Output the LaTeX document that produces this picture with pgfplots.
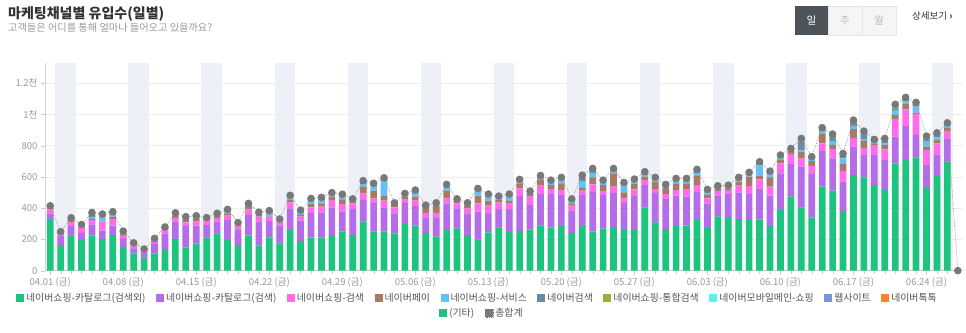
\documentclass[border=0pt]{standalone}
\usepackage{fontspec}
\setmainfont{Noto Sans CJK KR}
\usepackage{pgfplots}
\usepackage{pgfplotstable}
\pgfplotsset{compat=1.18}

\definecolor{cg}{HTML}{1CC47E}
\definecolor{cp}{HTML}{B46CE8}
\definecolor{ck}{HTML}{FF6BE8}
\definecolor{cb}{HTML}{A87A65}
\definecolor{cl}{HTML}{62C1F6}
\definecolor{cs}{HTML}{6A8BA3}
\definecolor{co}{HTML}{9DAE34}
\definecolor{cc}{HTML}{5DF0EC}
\definecolor{cw}{HTML}{7D93E0}
\definecolor{ct}{HTML}{FF7F2A}
\definecolor{ctot}{HTML}{787878}
\definecolor{cline}{HTML}{999999}
\definecolor{cband}{HTML}{EDF1F7}
\definecolor{cgrid}{HTML}{EEEEEE}
\definecolor{ctick}{HTML}{999999}
\definecolor{ctitle}{HTML}{333333}
\definecolor{csub}{HTML}{9A9A9A}
\definecolor{cleg}{HTML}{555555}
\definecolor{cdark}{HTML}{4C5459}
\definecolor{cbtn}{HTML}{F5F5F5}
\definecolor{cbtnb}{HTML}{E6E6E6}
\definecolor{cbtnt}{HTML}{BBBBBB}

\pgfplotstableread{
day g p k b l s o c w t tot
0 324 43 26 8 6 5 4 0 0 0 416
1 164 60 20 2 2 2 0 0 0 0 250
2 224 62 26 12 6 6 3 0 0 0 339
3 196 47 39 6 4 4 0 0 0 0 296
4 226 71 27 8 12 14 7 0 8 0 373
5 203 53 58 0 32 15 2 0 0 0 363
6 228 60 43 15 12 8 12 0 0 0 378
7 152 51 25 8 5 11 2 0 0 0 254
8 111 32 21 5 4 6 0 0 0 0 179
9 83 34 15 3 2 2 0 0 0 0 139
10 111 60 21 7 4 4 0 0 0 0 207
11 134 105 28 4 3 6 0 0 0 0 280
12 203 111 25 12 8 12 0 0 0 0 371
13 147 139 23 15 11 11 0 0 0 0 346
14 175 113 26 17 10 11 0 0 0 0 352
15 211 81 28 15 3 2 0 0 0 0 340
16 239 75 25 17 6 6 0 0 0 0 368
17 196 128 28 15 11 15 0 0 0 0 393
18 164 96 26 5 10 7 0 0 0 0 308
19 224 132 37 21 8 9 0 0 0 0 431
20 160 154 32 10 8 11 0 0 0 0 375
21 213 105 28 6 15 18 0 0 0 0 385
22 175 113 26 7 5 5 0 0 0 0 331
23 260 139 38 15 22 9 0 0 0 0 483
24 190 130 26 12 15 15 0 0 0 0 388
25 211 160 34 22 25 11 0 0 0 0 463
26 211 162 37 21 21 18 0 0 0 0 470
27 228 177 47 22 17 9 0 0 0 0 500
28 250 130 47 30 15 18 0 0 0 0 490
29 228 167 36 11 10 8 0 0 0 0 460
30 314 138 43 43 17 22 0 0 0 0 577
31 250 185 28 49 30 18 0 0 0 0 560
32 250 155 43 30 92 25 0 0 0 0 595
33 239 128 38 15 8 7 0 0 0 0 435
34 299 136 24 15 12 9 0 0 0 0 495
35 288 126 34 26 25 18 0 0 0 0 517
36 243 98 30 39 5 5 0 0 0 0 420
37 218 123 30 43 10 11 0 0 0 0 435
38 260 171 32 49 26 15 0 0 0 0 553
39 271 128 32 17 6 6 0 0 0 0 460
40 228 139 32 17 10 9 0 0 0 0 435
41 201 177 53 49 26 21 0 0 0 0 527
42 245 128 43 32 26 17 0 0 0 0 491
43 277 118 42 15 14 12 0 0 0 0 478
44 254 141 34 19 26 17 0 0 0 0 491
45 254 224 49 32 12 14 0 0 0 0 585
46 265 155 54 17 10 9 0 0 0 0 510
47 288 203 57 37 13 12 0 0 0 0 610
48 277 214 32 27 15 15 0 0 0 0 580
49 286 198 32 43 21 18 0 0 0 0 598
50 243 141 36 11 13 16 0 0 0 0 460
51 286 198 28 19 39 22 10 10 0 0 612
52 250 255 48 45 29 28 0 0 0 0 655
53 271 213 26 38 15 17 0 0 0 0 580
54 275 224 39 85 17 15 0 0 0 0 655
55 260 175 32 35 42 21 0 0 0 0 565
56 267 211 43 34 15 17 0 0 0 0 587
57 405 143 32 22 17 15 0 0 0 0 634
58 309 190 24 47 15 13 0 0 0 0 598
59 267 192 32 40 11 11 0 0 0 0 553
60 286 194 36 43 15 17 0 0 0 0 591
61 288 186 49 36 15 17 0 0 0 0 591
62 324 181 43 58 21 22 0 0 0 0 649
63 275 156 32 26 17 15 0 0 0 0 521
64 346 134 26 21 8 9 0 0 0 0 544
65 339 152 25 11 10 11 0 0 0 0 548
66 331 170 47 22 15 13 0 0 0 0 598
67 324 167 51 60 17 11 0 0 0 0 630
68 329 198 58 21 68 24 0 0 0 0 698
69 286 194 58 60 21 19 0 0 0 0 638
70 388 235 64 26 13 15 0 0 0 0 741
71 474 209 64 21 11 4 0 0 0 0 783
72 405 261 53 43 11 53 21 0 0 0 847
73 341 278 53 30 11 17 0 0 0 0 730
74 538 230 47 64 17 20 0 0 0 0 916
75 512 207 60 26 25 25 8 0 0 12 875
76 382 188 68 45 36 32 0 0 0 0 751
77 612 182 57 56 15 32 11 0 0 0 965
78 598 147 42 45 10 37 15 0 0 0 894
79 548 192 64 11 10 16 0 0 0 0 841
80 516 192 69 28 14 11 17 0 0 0 847
81 687 171 113 26 32 10 11 5 10 0 1065
82 708 218 107 34 15 28 0 0 0 0 1110
83 726 143 134 10 37 17 11 0 0 0 1078
84 529 147 97 21 36 8 24 0 0 0 862
85 608 132 75 22 17 29 0 0 0 0 883
86 698 145 47 25 11 21 0 0 0 0 947
87 0 0 0 0 0 0 0 0 0 0 0
}\datatable

\pgfplotsset{
  base/.style={at={(45pt,61.3pt)}, anchor=south west, scale only axis,
    width=918pt, height=207.7pt, xmin=-0.5, xmax=87.5, ymin=0, ymax=1330},
  sq/.style={fill=#1, draw=none,
    legend image code/.code={\fill[#1] (0pt,-4pt) rectangle (8pt,4pt);}},
}

\begin{document}
\begin{tikzpicture}
\useasboundingbox (0pt,0pt) rectangle (966pt,332pt);

% header
\node[anchor=base west, inner sep=0pt, text=ctitle, font=\fontsize{14}{16}\selectfont\bfseries] at (8pt,313.5pt) {마케팅채널별 유입수(일별)};
\node[anchor=base west, inner sep=0pt, text=csub, font=\fontsize{10.2}{12}\selectfont] at (8pt,300pt) {고객들은 어디를 통해 얼마나 들어오고 있을까요?};
\fill[cdark] (795pt,297pt) rectangle (828pt,326pt);
\filldraw[fill=cbtn, draw=cbtnb] (828pt,297pt) rectangle (896pt,326pt);
\draw[cbtnb] (862pt,297pt) -- (862pt,326pt);
\node[text=white, font=\fontsize{10.5}{12}\selectfont, inner sep=0pt] at (811.5pt,311pt) {일};
\node[text=cbtnt, font=\fontsize{10.5}{12}\selectfont, inner sep=0pt] at (845pt,311pt) {주};
\node[text=cbtnt, font=\fontsize{10.5}{12}\selectfont, inner sep=0pt] at (879pt,311pt) {월};
\node[anchor=west, text=ctitle, font=\fontsize{9.5}{11}\selectfont, inner sep=0pt] at (912pt,316pt) {상세보기 \textbf{›}};

% weekend bands
\begin{axis}[base, hide axis]
\pgfplotsinvokeforeach{0,...,12}{
  \fill[cband] (axis cs:{#1*7+0.5},0) rectangle (axis cs:{#1*7+2.5},1330);
}
\end{axis}

% stacked bars
\begin{axis}[base,
  ybar stacked, bar width=0.64,
  axis x line*=bottom, axis y line*=left,
  x axis line style={draw=cline!50, -}, y axis line style={draw=cline!40, -},
  ytick={0,200,400,600,800,1000,1200},
  yticklabels={0,200,400,600,800,1천,1.2천},
  xtick={0,7,...,84},
  xticklabels={04.01 (금),04.08 (금),04.15 (금),04.22 (금),04.29 (금),05.06 (금),05.13 (금),05.20 (금),05.27 (금),06.03 (금),06.10 (금),06.17 (금),06.24 (금)},
  minor xtick={0,...,87},
  tick align=outside, major tick length=4pt, minor tick length=3pt,
  tick style={draw=cline!50},
  ymajorgrids, grid style={draw=cgrid, line width=0.8pt},
  ticklabel style={text=ctick, font=\fontsize{9.5}{11}\selectfont},
  xticklabel style={yshift=1pt},
  legend columns=10,
  legend cell align=left,
  legend style={at={(axis description cs:0.4711,-0.1314)}, anchor=center,
    draw=none, fill=none, text=cleg, font=\fontsize{9.9}{11}\selectfont,
    /tikz/every even column/.append style={column sep=8.5pt},
    inner sep=0pt},
]
\addplot[sq=cg] table[x=day,y=g]{\datatable};
\addlegendentry{네이버쇼핑-카탈로그(검색외)}
\addplot[sq=cp] table[x=day,y=p]{\datatable};
\addlegendentry{네이버쇼핑-카탈로그(검색)}
\addplot[sq=ck] table[x=day,y=k]{\datatable};
\addlegendentry{네이버쇼핑-검색}
\addplot[sq=cb] table[x=day,y=b]{\datatable};
\addlegendentry{네이버페이}
\addplot[sq=cl] table[x=day,y=l]{\datatable};
\addlegendentry{네이버쇼핑-서비스}
\addplot[sq=cs] table[x=day,y=s]{\datatable};
\addlegendentry{네이버검색}
\addplot[sq=co] table[x=day,y=o]{\datatable};
\addlegendentry{네이버쇼핑-통합검색}
\addplot[sq=cc] table[x=day,y=c]{\datatable};
\addlegendentry{네이버모바일메인-쇼핑}
\addplot[sq=cw] table[x=day,y=w]{\datatable};
\addlegendentry{웹사이트}
\addplot[sq=ct] table[x=day,y=t]{\datatable};
\addlegendentry{네이버톡톡}
\end{axis}

% total line
\begin{axis}[base, hide axis,
  legend columns=2,
  legend cell align=left,
  legend style={at={(axis description cs:0.476,-0.2037)}, anchor=center,
    draw=none, fill=none, text=cleg, font=\fontsize{9.9}{11}\selectfont,
    /tikz/every even column/.append style={column sep=8.5pt},
    inner sep=0pt},
]
\addlegendimage{sq=cg}
\addlegendentry{(기타)}
\addplot[color=cline, densely dotted, line width=0.7pt, mark=*, mark size=3.4pt,
  mark options={solid, fill=ctot, draw=ctot},
  legend image code/.code={\fill[ctot] (0pt,-4pt) rectangle (8pt,4pt);}]
  table[x=day,y=tot]{\datatable};
\addlegendentry{총합계}
\end{axis}
\end{tikzpicture}
\end{document}
